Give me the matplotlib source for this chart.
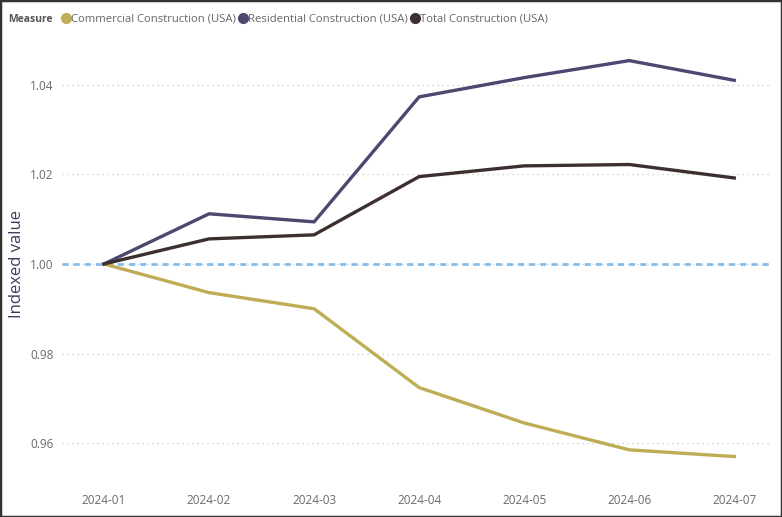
import matplotlib.pyplot as plt
from matplotlib.lines import Line2D

months = ['2024-01', '2024-02', '2024-03', '2024-04', '2024-05', '2024-06', '2024-07']
commercial = [1.0000, 0.9936, 0.9900, 0.9724, 0.9645, 0.9585, 0.9570]
residential = [1.0000, 1.0112, 1.0094, 1.0373, 1.0416, 1.0454, 1.0410]
total = [1.0000, 1.0056, 1.0065, 1.0195, 1.0219, 1.0222, 1.0192]
names = ['Commercial Construction (USA)', 'Residential Construction (USA)', 'Total Construction (USA)']
colors = ['#BFAD55', '#4B4970', '#3D2F2E']
yticks = [0.96, 0.98, 1.00, 1.02, 1.04]

plt.rcParams['font.family'] = ['Open Sans', 'DejaVu Sans']

fig = plt.figure(figsize=(7.82, 5.17), dpi=100)
ax = fig.add_axes([62/782, 47/517, 708/782, 430/517])

x = list(range(len(months)))
for vals, c in zip([commercial, residential, total], colors):
    ax.plot(x, vals, color=c, lw=2.4, solid_joinstyle='round', zorder=3)

ax.axhline(1.0, color='#83BDEB', lw=2, ls=(0, (2.2, 1.8)), zorder=2)

ax.set_xlim(-0.4, 6.34)
ax.set_ylim(0.954, 1.050)
ax.set_yticks(yticks)
ax.set_yticklabels(['%.2f' % t for t in yticks])
ax.set_xticks(x)
ax.set_xticklabels(months)
ax.tick_params(length=0, labelsize=8.5, labelcolor='#6A6A6A')
ax.tick_params(axis='x', pad=17)
ax.tick_params(axis='y', pad=6)
ax.grid(axis='y', color='#C8C8C8', ls=(0, (1, 3)), lw=0.9)
for s in ax.spines.values():
    s.set_visible(False)
ax.set_ylabel('Indexed value', fontsize=12, color='#3A3F60')
ax.yaxis.set_label_coords(-37/708, 0.48)

# legend row at the top
handles = [Line2D([], [], marker='o', ls='', color=c, markersize=7) for c in colors]
leg = fig.legend(handles, names, loc='upper left', bbox_to_anchor=(52/782, 0.989), ncol=3,
                 frameon=False, fontsize=8.1, handletextpad=0.0, columnspacing=0.1,
                 handlelength=1.0, borderaxespad=0.3)
for t in leg.get_texts():
    t.set_color('#666666')
fig.text(8/782, 1 - 19/517, 'Measure', fontsize=7.5, fontweight='bold', color='#555555', va='center')

# dark frame around the whole picture
fig.add_artist(plt.Rectangle((0, 0), 1, 1, transform=fig.transFigure, fill=False,
                             edgecolor='#333333', lw=2.5))

fig.savefig('out.png', dpi=100)
